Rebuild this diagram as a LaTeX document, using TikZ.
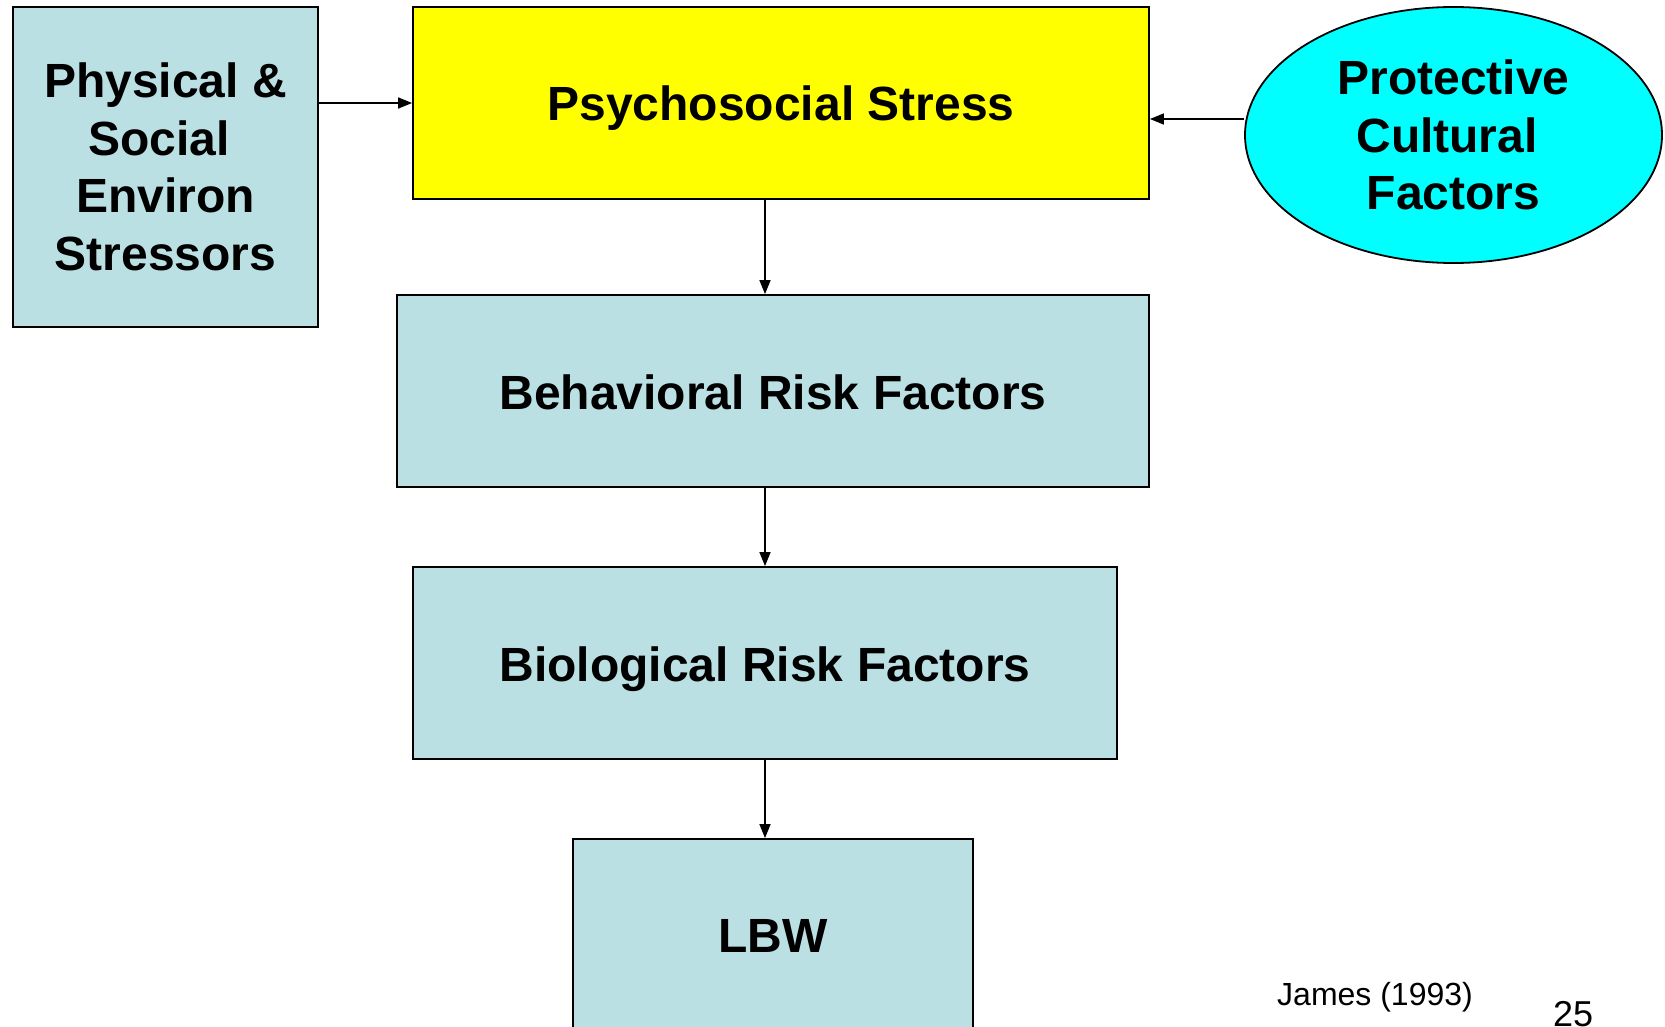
\documentclass[tikz,border=0pt]{standalone}
\usepackage{fontspec}
\setmainfont{Liberation Sans}
\usetikzlibrary{arrows.meta,shapes.geometric}
\definecolor{boxblue}{HTML}{BBE0E3}
\definecolor{ycol}{HTML}{FFFF00}
\definecolor{ccol}{HTML}{00FFFF}
\begin{document}
\begin{tikzpicture}[x=1pt,y=-1pt,
  boxstyle/.style={draw=black,line width=1.8pt,fill=boxblue,rectangle,inner sep=0pt,
    align=center,font=\bfseries\fontsize{48}{57.6}\selectfont},
  arr/.style={line width=1.6pt,-{Triangle[length=14pt,width=11pt]}}]
\useasboundingbox (0,0) rectangle (1665,1027);
\clip (0,0) rectangle (1665,1027);
\fill[white] (0,0) rectangle (1665,1027);
\node[boxstyle,minimum width=305pt,minimum height=320pt] (phys) at (165.5,167) {Physical \&\\Social\rule{13pt}{0pt}\\Environ\\Stressors};
\node[boxstyle,fill=ycol,minimum width=736pt,minimum height=192pt,text height=35pt,text depth=0pt] (psy) at (781,103) {Psychosocial Stress};
\node[boxstyle,minimum width=752pt,minimum height=192pt,text height=37pt,text depth=0pt] (beh) at (773,391) {Behavioral Risk Factors};
\node[boxstyle,minimum width=704pt,minimum height=192pt,text height=37pt,text depth=0pt] (bio) at (765,663) {Biological Risk Factors};
\node[boxstyle,minimum width=400pt,minimum height=194pt] (lbw) at (773,936) {LBW};
\node[boxstyle,fill=ccol,ellipse,minimum width=417pt,minimum height=256pt] (ell) at (1453.5,135) {Protective\\Cultural\rule{13pt}{0pt}\\Factors};
\node[font=\fontsize{32}{38}\selectfont,anchor=base west,inner sep=0pt] (james) at (1277,1005) {James (1993)};
\node[font=\fontsize{36}{43}\selectfont,anchor=base west,inner sep=0pt] (num) at (1553,1026) {25};
\draw[arr] (phys.east |- psy.west) -- (psy.west);
\draw[arr] ([yshift=16pt]ell.west) -- ([yshift=16pt]ell.west -| psy.east);
\draw[arr] (psy.south -| bio.north) -- (beh.north -| bio.north);
\draw[arr] (beh.south -| bio.north) -- (bio.north);
\draw[arr] (bio.south) -- (lbw.north -| bio.south);
\end{tikzpicture}
\end{document}
